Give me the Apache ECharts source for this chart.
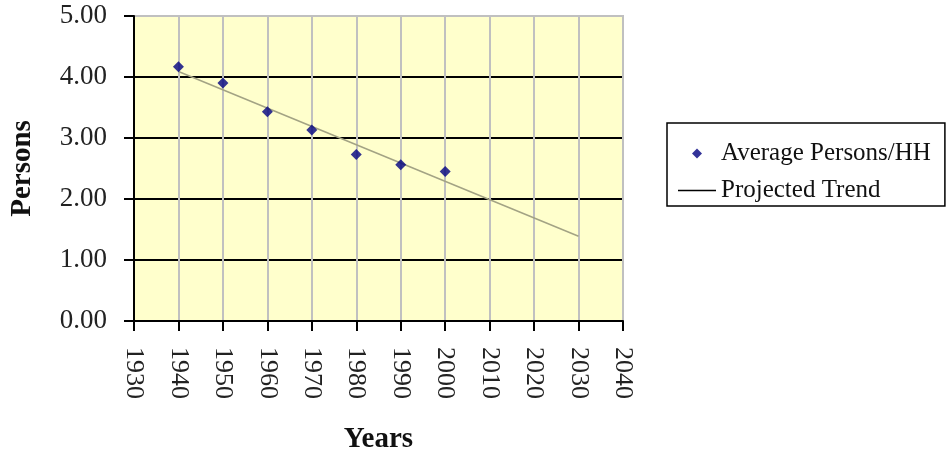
<!DOCTYPE html>
<html>
<head>
<meta charset="utf-8">
<script src="https://cdn.jsdelivr.net/npm/echarts@6/dist/echarts.min.js"></script>
<style>
  html, body { margin: 0; padding: 0; background: #fff; }
  #chart { width: 946px; height: 453px; }
</style>
</head>
<body>
<div id="chart"></div>
<script>
// Census observations: average persons per household by decade
const years = [1940, 1950, 1960, 1970, 1980, 1990, 2000];
const avgPersons = [4.17, 3.90, 3.43, 3.13, 2.73, 2.56, 2.45];

// Linear projection endpoints
const trendYears = [1940, 2030];
const trendPersons = [4.09, 1.39];

// Axis ranges
const xMin = 1930, xMax = 2040, xStep = 10;
const yMin = 0, yMax = 5, yStep = 1;

const serif = "'Liberation Serif', 'Times New Roman', serif";

// Legend glyphs: a small diamond and a thin horizontal rule
const diamondIcon = 'path://M5,0 L10,5 L5,10 L0,5 Z';
const ruleIcon = 'path://M0,0 L38,0 L38,1.4 L0,1.4 Z';

const chart = echarts.init(document.getElementById('chart'), null, { renderer: 'canvas' });

chart.setOption({
  animation: false,
  backgroundColor: '#ffffff',
  grid: {
    left: 134, right: 323, top: 16, bottom: 132,
    outerBoundsMode: 'none',
    containLabel: false,
    show: true,
    backgroundColor: '#ffffcc',
    borderColor: '#c0c0c0',
    borderWidth: 2
  },
  xAxis: {
    type: 'value',
    min: xMin, max: xMax, interval: xStep,
    name: 'Years',
    nameLocation: 'middle',
    nameGap: 104,
    nameTextStyle: { fontFamily: serif, fontSize: 29, fontWeight: 'bold', color: '#111' },
    axisLine: { show: true, onZero: false, lineStyle: { color: '#000', width: 2 } },
    axisTick: { show: true, length: 10, lineStyle: { color: '#000', width: 2 } },
    axisLabel: {
      rotate: -90,
      margin: 26,
      fontFamily: serif, fontSize: 26, color: '#222',
      formatter: v => String(v)
    },
    splitLine: { show: true, lineStyle: { color: '#c0c0c0', width: 2 } }
  },
  yAxis: {
    type: 'value',
    min: yMin, max: yMax, interval: yStep,
    name: 'Persons',
    nameLocation: 'middle',
    nameRotate: 90,
    nameGap: 97,
    nameTextStyle: { fontFamily: serif, fontSize: 29, fontWeight: 'bold', color: '#111' },
    axisLine: { show: true, onZero: false, lineStyle: { color: '#000', width: 2 } },
    axisTick: { show: true, length: 10, lineStyle: { color: '#000', width: 2 } },
    axisLabel: {
      margin: 27,
      fontFamily: serif, fontSize: 27, color: '#222',
      formatter: v => v.toFixed(2)
    },
    splitLine: { show: true, showMaxLine: false, lineStyle: { color: '#000', width: 2 } }
  },
  legend: {
    orient: 'vertical',
    left: 667,
    top: 123,
    padding: [18, 14, 3, 11],
    itemGap: 12,
    itemWidth: 38,
    itemHeight: 10,
    borderColor: '#000',
    borderWidth: 1.5,
    backgroundColor: '#fff',
    textStyle: { fontFamily: serif, fontSize: 25, color: '#111', lineHeight: 24 },
    data: [
      { name: 'Average Persons/HH', icon: diamondIcon, itemStyle: { color: '#000080' } },
      { name: 'Projected Trend', icon: ruleIcon, itemStyle: { color: '#000' } }
    ]
  },
  series: [
    {
      name: 'Projected Trend',
      type: 'line',
      data: trendYears.map((y, i) => [y, trendPersons[i]]),
      symbol: 'none',
      lineStyle: { color: '#a3a384', width: 1.5 },
      z: 3
    },
    {
      name: 'Average Persons/HH',
      type: 'scatter',
      data: years.map((y, i) => [y, avgPersons[i]]),
      symbol: 'diamond',
      symbolSize: 11,
      itemStyle: { color: '#000080' },
      z: 4
    }
  ]
});
</script>
</body>
</html>
